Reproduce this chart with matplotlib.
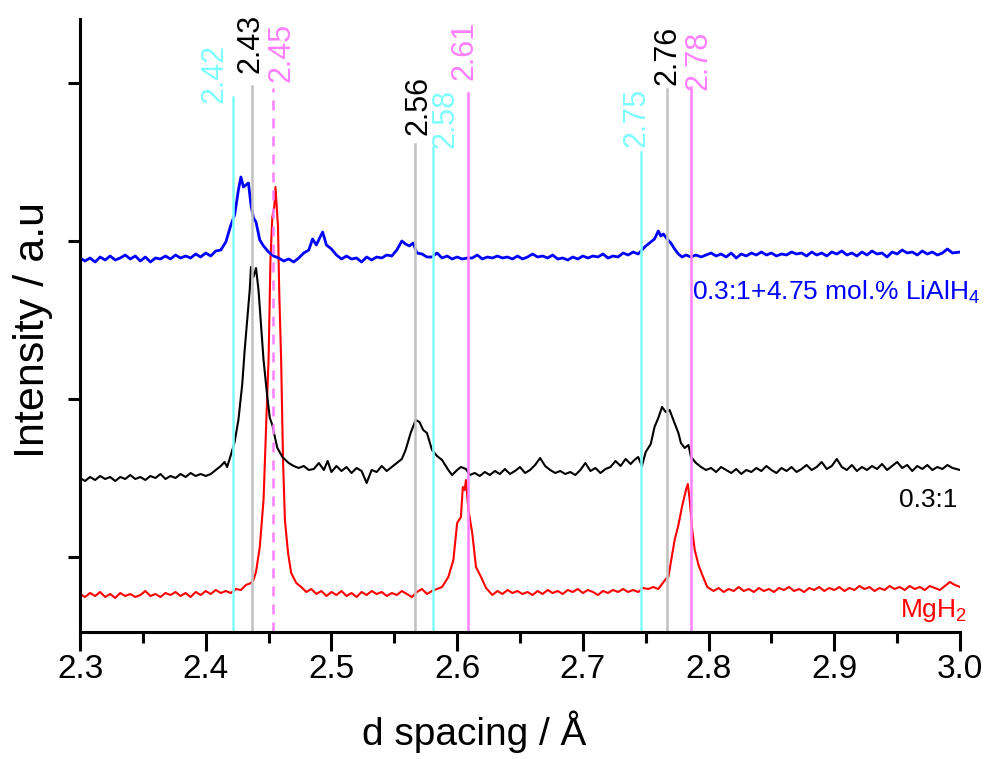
import numpy as np
import matplotlib
matplotlib.use("Agg")
import matplotlib.pyplot as plt
from matplotlib.ticker import MultipleLocator, FormatStrFormatter

plt.rcParams['font.family'] = ['Liberation Sans', 'DejaVu Sans']
plt.rcParams['mathtext.default'] = 'regular'

# d spacing (Angstrom) and stacked intensity (a.u.) for each pattern
blue_d = [2.300, 2.304, 2.308, 2.312, 2.316, 2.320, 2.324, 2.328, 2.332, 2.336,
          2.340, 2.344, 2.348, 2.352, 2.356, 2.360, 2.364, 2.368, 2.372, 2.376,
          2.380, 2.384, 2.388, 2.392, 2.396, 2.400, 2.404, 2.408, 2.412, 2.416,
          2.420, 2.423, 2.426, 2.428, 2.430, 2.432, 2.434, 2.436, 2.438, 2.440,
          2.443, 2.446, 2.450, 2.454, 2.458, 2.462, 2.466, 2.470, 2.474, 2.478,
          2.482, 2.485, 2.488, 2.491, 2.493, 2.496, 2.500, 2.504, 2.508, 2.512,
          2.516, 2.520, 2.524, 2.528, 2.532, 2.536, 2.540, 2.544, 2.548, 2.552,
          2.556, 2.559, 2.562, 2.565, 2.568, 2.572, 2.576, 2.580, 2.584, 2.588,
          2.592, 2.596, 2.600, 2.604, 2.608, 2.612, 2.616, 2.620, 2.624, 2.628,
          2.632, 2.636, 2.640, 2.644, 2.648, 2.652, 2.656, 2.660, 2.664, 2.668,
          2.672, 2.676, 2.680, 2.684, 2.688, 2.692, 2.696, 2.700, 2.704, 2.708,
          2.712, 2.716, 2.720, 2.724, 2.728, 2.732, 2.736, 2.740, 2.744, 2.747,
          2.750, 2.754, 2.757, 2.760, 2.762, 2.764, 2.767, 2.770, 2.773, 2.776,
          2.779, 2.782, 2.786, 2.790, 2.794, 2.798, 2.802, 2.806, 2.810, 2.814,
          2.818, 2.822, 2.826, 2.830, 2.834, 2.838, 2.842, 2.846, 2.850, 2.854,
          2.858, 2.862, 2.866, 2.870, 2.874, 2.878, 2.882, 2.886, 2.890, 2.894,
          2.898, 2.902, 2.906, 2.910, 2.914, 2.918, 2.922, 2.926, 2.930, 2.934,
          2.938, 2.942, 2.946, 2.950, 2.954, 2.958, 2.962, 2.966, 2.970, 2.974,
          2.978, 2.982, 2.986, 2.990, 2.994, 3.000]
blue_i = [374, 371, 374, 370, 375, 372, 376, 372, 374, 377,
          373, 376, 371, 375, 370, 374, 373, 376, 373, 377,
          374, 376, 374, 378, 375, 379, 376, 381, 382, 390,
          407, 417, 442, 455, 445, 447, 449, 427, 414, 410,
          392, 386, 380, 376, 374, 371, 373, 370, 374, 379,
          382, 393, 387, 395, 400, 387, 383, 377, 373, 376,
          373, 374, 370, 375, 372, 375, 374, 377, 376, 382,
          391, 388, 386, 389, 379, 378, 375, 375, 379, 374,
          376, 373, 375, 373, 374, 374, 377, 373, 375, 374,
          376, 374, 375, 373, 376, 373, 375, 378, 375, 376,
          374, 377, 373, 374, 372, 375, 373, 376, 374, 376,
          375, 378, 374, 376, 375, 379, 377, 380, 378, 382,
          386, 390, 393, 401, 396, 398, 393, 389, 383, 378,
          375, 377, 375, 377, 375, 377, 379, 376, 378, 375,
          379, 374, 378, 376, 379, 377, 380, 377, 379, 376,
          378, 377, 380, 378, 379, 376, 380, 377, 379, 376,
          380, 378, 381, 377, 379, 376, 380, 377, 381, 378,
          379, 375, 380, 378, 382, 379, 380, 377, 381, 378,
          380, 377, 379, 383, 379, 380]

black_d = [2.300, 2.304, 2.308, 2.312, 2.316, 2.320, 2.324, 2.328, 2.332, 2.336,
           2.340, 2.344, 2.348, 2.352, 2.356, 2.360, 2.364, 2.368, 2.372, 2.376,
           2.380, 2.384, 2.388, 2.392, 2.396, 2.400, 2.404, 2.408, 2.412, 2.415,
           2.417, 2.420, 2.423, 2.426, 2.429, 2.431, 2.433, 2.435, 2.436, 2.438,
           2.440, 2.442, 2.444, 2.446, 2.449, 2.451, 2.453, 2.455, 2.457, 2.461,
           2.466, 2.470, 2.474, 2.478, 2.482, 2.486, 2.490, 2.494, 2.497, 2.500,
           2.504, 2.508, 2.512, 2.516, 2.520, 2.524, 2.528, 2.532, 2.536, 2.540,
           2.544, 2.548, 2.552, 2.556, 2.559, 2.563, 2.567, 2.570, 2.573, 2.576,
           2.580, 2.584, 2.588, 2.593, 2.596, 2.600, 2.603, 2.607, 2.610, 2.614,
           2.618, 2.622, 2.626, 2.630, 2.634, 2.638, 2.642, 2.646, 2.650, 2.654,
           2.658, 2.662, 2.666, 2.670, 2.674, 2.678, 2.682, 2.686, 2.690, 2.694,
           2.698, 2.702, 2.706, 2.710, 2.714, 2.718, 2.722, 2.726, 2.730, 2.734,
           2.738, 2.741, 2.744, 2.747, 2.750, 2.754, 2.757, 2.760, 2.763, 2.766,
           2.769, 2.772, 2.776, 2.778, 2.781, 2.784, 2.786, 2.790, 2.794, 2.798,
           2.802, 2.806, 2.810, 2.814, 2.818, 2.822, 2.826, 2.830, 2.834, 2.838,
           2.842, 2.846, 2.850, 2.854, 2.858, 2.862, 2.866, 2.870, 2.874, 2.878,
           2.882, 2.886, 2.890, 2.894, 2.898, 2.902, 2.906, 2.910, 2.914, 2.918,
           2.922, 2.926, 2.930, 2.934, 2.938, 2.942, 2.946, 2.950, 2.954, 2.958,
           2.962, 2.966, 2.970, 2.974, 2.978, 2.982, 2.986, 2.990, 2.994, 3.000]
black_i = [154, 151, 155, 152, 156, 153, 155, 151, 155, 153,
           157, 153, 155, 152, 156, 154, 158, 153, 156, 154,
           158, 155, 159, 156, 158, 156, 158, 162, 166, 170,
           165, 177, 190, 212, 247, 282, 312, 342, 365, 355,
           364, 342, 307, 272, 235, 214, 207, 195, 184, 175,
           169, 166, 164, 166, 162, 163, 169, 162, 171, 160,
           166, 161, 165, 159, 164, 161, 149, 162, 160, 166,
           161, 165, 169, 173, 182, 199, 212, 210, 202, 199,
           182, 176, 172, 162, 157, 162, 165, 163, 157, 159,
           156, 160, 157, 161, 158, 163, 158, 161, 165, 159,
           162, 167, 174, 166, 162, 159, 161, 158, 160, 157,
           162, 169, 161, 164, 159, 163, 165, 171, 166, 173,
           168, 172, 175, 166, 180, 188, 205, 214, 225, 220,
           222, 212, 199, 189, 184, 187, 175, 169, 165, 162,
           164, 160, 165, 162, 159, 163, 158, 162, 160, 164,
           161, 166, 162, 159, 164, 161, 165, 160, 163, 167,
           162, 165, 170, 163, 166, 173, 165, 162, 167, 161,
           165, 162, 166, 163, 168, 162, 166, 170, 164, 167,
           161, 166, 163, 167, 162, 165, 163, 167, 164, 162]

red_d = [2.300, 2.304, 2.308, 2.312, 2.316, 2.320, 2.324, 2.328, 2.332, 2.336,
         2.340, 2.344, 2.348, 2.352, 2.356, 2.360, 2.364, 2.368, 2.372, 2.376,
         2.380, 2.384, 2.388, 2.392, 2.396, 2.400, 2.404, 2.408, 2.412, 2.416,
         2.420, 2.424, 2.428, 2.432, 2.436, 2.438, 2.440, 2.443, 2.446, 2.4485,
         2.450, 2.4515, 2.453, 2.4545, 2.4555, 2.4575, 2.4585, 2.460, 2.4615, 2.463,
         2.4655, 2.468, 2.472, 2.476, 2.480, 2.484, 2.488, 2.492, 2.496, 2.500,
         2.504, 2.508, 2.512, 2.516, 2.520, 2.524, 2.528, 2.532, 2.536, 2.540,
         2.544, 2.548, 2.552, 2.556, 2.560, 2.564, 2.568, 2.572, 2.576, 2.580,
         2.584, 2.588, 2.593, 2.597, 2.600, 2.603, 2.6045, 2.606, 2.607, 2.609,
         2.612, 2.615, 2.619, 2.623, 2.628, 2.632, 2.636, 2.640, 2.644, 2.648,
         2.652, 2.656, 2.660, 2.664, 2.668, 2.672, 2.676, 2.680, 2.684, 2.688,
         2.692, 2.696, 2.700, 2.704, 2.708, 2.712, 2.716, 2.720, 2.724, 2.728,
         2.732, 2.736, 2.740, 2.744, 2.748, 2.752, 2.756, 2.760, 2.763, 2.766,
         2.768, 2.771, 2.773, 2.776, 2.779, 2.782, 2.7835, 2.785, 2.787, 2.789,
         2.792, 2.795, 2.799, 2.804, 2.808, 2.812, 2.816, 2.820, 2.824, 2.828,
         2.832, 2.836, 2.840, 2.844, 2.848, 2.852, 2.856, 2.860, 2.864, 2.868,
         2.872, 2.876, 2.880, 2.884, 2.888, 2.892, 2.896, 2.900, 2.904, 2.908,
         2.912, 2.916, 2.920, 2.924, 2.928, 2.932, 2.936, 2.940, 2.944, 2.948,
         2.952, 2.956, 2.960, 2.964, 2.968, 2.972, 2.976, 2.980, 2.984, 2.988,
         2.992, 2.996, 3.000]
red_i = [38, 35, 39, 36, 40, 35, 38, 34, 39, 36,
         38, 35, 37, 41, 36, 38, 35, 39, 37, 40,
         36, 39, 35, 40, 37, 41, 38, 42, 39, 41,
         39, 43, 42, 47, 49, 52, 60, 85, 132, 222,
         272, 372, 415, 425, 445, 405, 339, 272, 172, 112,
         79, 59, 49, 45, 40, 43, 38, 41, 36, 40,
         37, 41, 36, 39, 35, 40, 37, 41, 38, 40,
         36, 39, 37, 41, 38, 35, 40, 43, 38, 41,
         43, 45, 55, 72, 109, 115, 145, 142, 152, 122,
         99, 65, 55, 44, 37, 41, 38, 42, 39, 41,
         38, 40, 37, 41, 38, 42, 39, 41, 38, 42,
         40, 43, 39, 42, 40, 37, 41, 39, 42, 40,
         43, 40, 42, 40, 44, 43, 45, 43, 48, 53,
         55, 77, 92, 107, 126, 142, 148, 132, 102, 82,
         67, 57, 45, 41, 44, 40, 43, 41, 45, 41,
         43, 40, 44, 41, 43, 40, 44, 42, 45, 41,
         43, 40, 44, 42, 45, 41, 44, 42, 45, 41,
         44, 42, 46, 43, 45, 41, 44, 42, 46, 43,
         45, 42, 46, 43, 45, 42, 46, 44, 42, 46,
         50, 47, 45]

# reference d spacings (vertical marker lines)
ref_d = [2.4217, 2.4368, 2.4535, 2.5665, 2.5810, 2.6087, 2.7463, 2.7670, 2.7860]
ref_top = [535, 546, 544, 488, 485, 539, 480, 543, 545]
ref_labels = ["2.42", "2.43", "2.45", "2.56", "2.58", "2.61", "2.75", "2.76", "2.78"]
ref_kind = ["c", "g", "m", "g", "c", "m", "c", "g", "m"]
label_d = [2.4066, 2.436, 2.460, 2.569, 2.591, 2.606, 2.743, 2.767, 2.792]
label_h = [529, 559, 550, 497, 484, 552, 485, 547, 542]

yticks = [75, 233, 391, 549]

line_col = {"c": "#80ffff", "g": "#c0c0c0", "m": "#ff80ff"}
text_col = {"c": "#80ffff", "g": "black", "m": "#ff80ff"}

fig = plt.figure(figsize=(9.84, 7.59), dpi=100)
ax = fig.add_axes([80 / 984, 1 - 632 / 759, 880 / 984, 613 / 759])

ax.plot(red_d, red_i, color="red", lw=1.5)
ax.plot(black_d, black_i, color="black", lw=1.5)
ax.plot(blue_d, blue_i, color="blue", lw=2.0)

for d, top, lab, k, ld, lh in zip(ref_d, ref_top, ref_labels, ref_kind, label_d, label_h):
    ls = (0, (4, 3.2)) if lab == "2.45" else "-"
    ax.plot([d, d], [0, top], color=line_col[k], lw=1.8, linestyle=ls)
    ax.text(ld, lh, lab, rotation=90, ha="center", va="bottom",
            fontsize=22, color=text_col[k])

ax.text(3.0159, 332, "0.3:1+4.75 mol.% LiAlH$_4$", color="blue", fontsize=19,
        ha="right", va="baseline")
ax.text(2.9976, 125, "0.3:1", color="black", fontsize=19, ha="right", va="baseline")
ax.text(3.0056, 15, "MgH$_2$", color="red", fontsize=19, ha="right", va="baseline")

ax.set_xlim(2.3, 3.0)
ax.set_ylim(0, 613)
ax.xaxis.set_major_locator(MultipleLocator(0.1))
ax.xaxis.set_minor_locator(MultipleLocator(0.05))
ax.xaxis.set_major_formatter(FormatStrFormatter("%.1f"))
ax.set_yticks(yticks)
ax.set_yticklabels([])

for s in ["top", "right"]:
    ax.spines[s].set_visible(False)
for s in ["left", "bottom"]:
    ax.spines[s].set_linewidth(2.2)

ax.tick_params(axis="x", which="major", direction="out", length=14, width=2.2,
               labelsize=24, pad=2)
ax.tick_params(axis="x", which="minor", direction="out", length=8, width=2.2)
ax.tick_params(axis="y", which="major", direction="out", length=9, width=2.2)

ax.set_xlabel("d spacing / Å", fontsize=28)
ax.xaxis.set_label_coords(0.448, -0.128)
ax.set_ylabel("Intensity / a.u", fontsize=31)
ax.yaxis.set_label_coords(-0.031, 0.4927)

fig.savefig("out.png", dpi=100)
